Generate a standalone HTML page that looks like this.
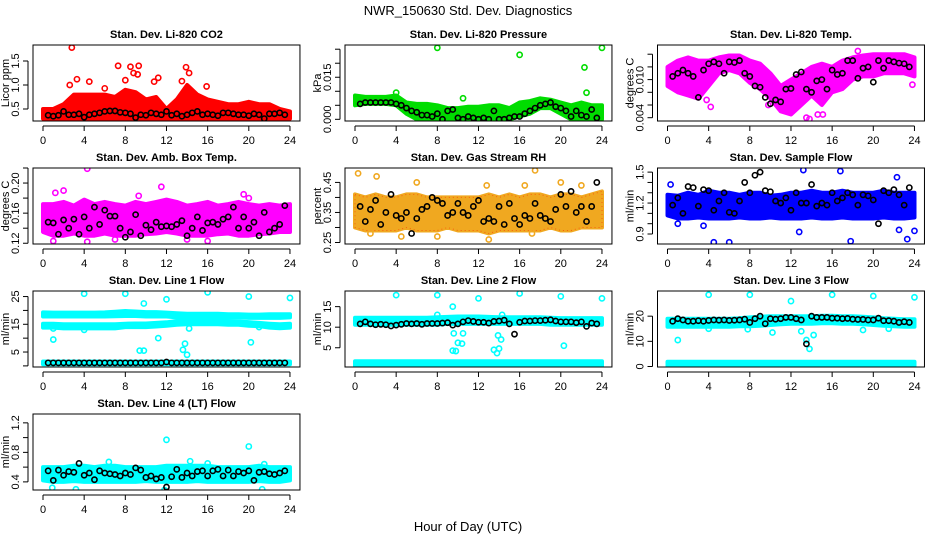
<!DOCTYPE html>
<html><head><meta charset="utf-8"><style>
html,body{margin:0;padding:0;background:#fff;}
svg{display:block;font-family:"Liberation Sans",Arial,sans-serif;}
</style></head><body>
<svg id="chart" width="936" height="540" viewBox="0 0 936 540" xmlns="http://www.w3.org/2000/svg">
<rect width="936" height="540" fill="#fff"/>
<text x="468" y="15" text-anchor="middle" font-size="13">NWR_150630  Std. Dev. Diagnostics</text>
<text x="468" y="531" text-anchor="middle" font-size="13">Hour of Day (UTC)</text>
</svg>
<script>
const HOURS = [0,1,2,3,4,5,6,7,8,9,10,11,12,13,14,15,16,17,18,19,20,21,22,23,24];
const X_TICKS = [0,4,8,12,16,20,24];

// Panel 1 CO2
const co2Lo = [0.3,0.3,0.3,0.3,0.3,0.3,0.3,0.3,0.3,0.3,0.3,0.3,0.3,0.3,0.3,0.3,0.3,0.3,0.3,0.3,0.3,0.3,0.3,0.3,0.3];
const co2Hi = [0.5,0.5,0.6,0.8,0.8,0.8,0.8,0.75,0.9,0.85,0.7,0.75,0.5,0.7,1.0,0.8,0.7,0.65,0.6,0.6,0.65,0.6,0.6,0.5,0.45];
const co2Out = [[2.8,1.78],[3.3,1.12],[4.5,1.07],[7.3,1.4],[8.5,1.38],[9.3,1.4],[8.8,1.25],[9.2,1.22],[10.8,1.07],[11.2,1.15],[13.9,1.37],[14.2,1.25],[15.9,0.97],[2.6,1.0],[6,0.93],[8,1.1],[13.5,1.08]];
const co2Black = [0.37,0.35,0.37,0.45,0.38,0.38,0.4,0.33,0.38,0.4,0.42,0.45,0.46,0.46,0.43,0.42,0.4,0.32,0.38,0.37,0.42,0.4,0.38,0.45,0.37,0.4,0.35,0.38,0.42,0.45,0.38,0.4,0.38,0.36,0.42,0.42,0.4,0.38,0.38,0.36,0.4,0.38,0.3,0.4,0.4,0.42,0.38];
// Panel 2 Pressure
const presLo = [0.005,0.0055,0.0055,0.0055,0.005,0.002,0,0,0,0,0,0,0,0,0,0,0.001,0.002,0.004,0.004,0.002,0,0,0,0];
const presHi = [0.0085,0.008,0.008,0.008,0.0085,0.006,0.0055,0.0055,0.005,0.004,0.004,0.0045,0.0045,0.005,0.005,0.004,0.006,0.0065,0.0075,0.007,0.006,0.005,0.006,0.005,0.005];
const presOut = [[8,0.0255],[16,0.023],[22.3,0.0185],[24,0.0255],[4.0,0.0095],[22.5,0.0095],[10.5,0.0075]];
const presBlack = [0.0055,0.006,0.006,0.006,0.006,0.006,0.006,0.0055,0.005,0.004,0.003,0.0025,0.0015,0.0015,0.001,0.002,0,0.003,0.0035,0.0005,0,0.001,0.0005,0,0.0005,0,0.003,0,0,0.0005,0.001,0.001,0.002,0.003,0.004,0.005,0.0055,0.006,0.0045,0.004,0.003,0.001,0.003,0.0015,0.001,0.0035,0.0005];
// Panel 3 Li-820 temp
const tempLo = [0.009,0.008,0.0075,0.007,0.009,0.011,0.0115,0.011,0.0095,0.0085,0.007,0.005,0.0045,0.006,0.0075,0.006,0.008,0.0085,0.010,0.0105,0.0105,0.011,0.011,0.011,0.0105];
const tempHi = [0.012,0.013,0.0135,0.013,0.013,0.0135,0.0138,0.0138,0.013,0.0125,0.011,0.009,0.010,0.011,0.012,0.0125,0.012,0.013,0.0135,0.0138,0.014,0.014,0.014,0.014,0.0135];
const tempOut = [[13.5,0.004],[13.8,0.0038],[14.6,0.0045],[15.1,0.0045],[4.2,0.0057],[9.8,0.006],[3.8,0.0068],[0.2,0.0095],[23.8,0.0092],[18.5,0.0145]];
const tempBlack = [0.0105,0.011,0.0115,0.011,0.0105,0.0072,0.0115,0.0125,0.0128,0.0125,0.011,0.0128,0.0127,0.013,0.011,0.0105,0.009,0.0088,0.0072,0.0062,0.0068,0.0065,0.0085,0.0086,0.0108,0.0112,0.0085,0.008,0.0098,0.01,0.0085,0.0115,0.0108,0.011,0.013,0.013,0.0102,0.0118,0.012,0.0096,0.013,0.0118,0.013,0.0128,0.0126,0.0125,0.012];
// Panel 4 Amb box temp
const ambLo = [0.135,0.13,0.13,0.133,0.13,0.13,0.133,0.13,0.13,0.13,0.132,0.133,0.135,0.133,0.13,0.13,0.13,0.132,0.133,0.13,0.13,0.132,0.133,0.135,0.135];
const ambHi = [0.172,0.172,0.175,0.17,0.178,0.172,0.175,0.172,0.17,0.175,0.172,0.175,0.178,0.175,0.17,0.172,0.175,0.17,0.172,0.175,0.172,0.17,0.172,0.17,0.172];
const ambOut = [[4.3,0.219],[1.2,0.187],[2,0.19],[11.5,0.195],[9.3,0.183],[16,0.123],[4.3,0.122],[1,0.123],[19.5,0.185],[20,0.18],[7,0.125],[14,0.125]];
const ambBlack = [0.148,0.147,0.132,0.151,0.14,0.152,0.132,0.155,0.14,0.168,0.145,0.164,0.156,0.156,0.14,0.128,0.135,0.158,0.13,0.144,0.138,0.148,0.142,0.143,0.142,0.145,0.15,0.13,0.14,0.155,0.137,0.147,0.148,0.145,0.152,0.155,0.168,0.14,0.155,0.14,0.148,0.13,0.161,0.135,0.14,0.145,0.17];
// Panel 5 Gas stream RH
const rhLo = [0.3,0.29,0.29,0.29,0.29,0.3,0.29,0.29,0.29,0.3,0.29,0.29,0.29,0.28,0.29,0.29,0.29,0.29,0.29,0.3,0.29,0.29,0.3,0.3,0.3];
const rhHi = [0.41,0.4,0.41,0.4,0.4,0.41,0.41,0.4,0.4,0.4,0.4,0.4,0.4,0.41,0.4,0.41,0.4,0.41,0.41,0.4,0.41,0.41,0.4,0.41,0.42];
const rhOut = [[0.3,0.48],[2.1,0.47],[17.5,0.49],[13,0.26],[8,0.27],[4.5,0.27],[6,0.45],[12.8,0.44],[16.5,0.44],[20,0.45],[22,0.44],[1.5,0.28],[17.2,0.28]];
const rhBlack = [0.37,0.32,0.36,0.39,0.31,0.35,0.41,0.34,0.33,0.35,0.28,0.33,0.36,0.37,0.4,0.39,0.38,0.34,0.35,0.38,0.35,0.34,0.37,0.39,0.32,0.33,0.32,0.37,0.31,0.38,0.33,0.31,0.34,0.33,0.38,0.34,0.33,0.32,0.36,0.41,0.37,0.42,0.35,0.37,0.32,0.37,0.45];
// Panel 6 Sample flow
const flowLo = [1.08,1.05,1.05,1.06,1.05,1.05,1.05,1.06,1.05,1.05,1.06,1.05,1.05,1.05,1.06,1.05,1.05,1.06,1.05,1.05,1.05,1.06,1.05,1.05,1.06];
const flowHi = [1.28,1.27,1.3,1.28,1.32,1.3,1.3,1.28,1.3,1.3,1.27,1.28,1.3,1.3,1.32,1.3,1.3,1.32,1.3,1.3,1.3,1.32,1.3,1.3,1.3];
const flowOut = [[4.5,0.82],[6,0.82],[17.8,0.83],[13.2,1.52],[16.8,1.51],[22.3,1.45],[23.3,0.85],[24,0.93],[12.8,0.92],[0.3,1.38],[22.5,0.94],[3.5,0.98],[1,1.0]];
const flowBlack = [1.18,1.25,1.1,1.36,1.35,1.17,1.33,1.32,1.13,1.22,1.3,1.11,1.1,1.22,1.4,1.3,1.47,1.5,1.32,1.31,1.22,1.2,1.25,1.13,1.3,1.2,1.2,1.38,1.17,1.2,1.18,1.3,1.22,1.25,1.3,1.28,1.18,1.28,1.27,1.23,1.0,1.32,1.3,1.33,1.28,1.18,1.35];
// Panel 7 Line 1 flow
const l1ALo = [17.8,17.8,17.8,17.8,17.8,17.8,17.8,17.9,18,18,17.8,17.8,17.8,17.5,17.5,17.5,17.5,17.5,17.5,17.5,17.3,17.3,17.3,17.3,17.5];
const l1AHi = [19.3,19.2,19.2,19.2,19.2,19.2,19.3,19.5,19.8,19.6,19.4,19.4,19.2,19,18.8,18.8,18.8,18.8,18.6,18.6,18.5,18.5,18.6,18.6,18.6];
const l1BLo = [13.8,13.8,13.5,13.5,13.5,13.5,13.5,13.5,14,14,14,14.2,14.5,14.8,15,15,15,15,14.8,14.8,14.5,14.3,13.8,13.6,13.8];
const l1BHi = [15.2,15.2,15,15,15,15,15,15,15.2,15.3,15.3,15.5,15.7,16.2,16.5,16.5,16.3,16.3,16.2,16,15.8,15.5,15.2,15,15.2];
const l1CLo = [0.6,0.6,0.6,0.6,0.6,0.6,0.6,0.6,0.6,0.6,0.6,0.6,0.6,0.6,0.6,0.6,0.6,0.6,0.6,0.6,0.6,0.6,0.6,0.6,0.6];
const l1CHi = [1.6,1.6,1.6,1.6,1.6,1.6,1.6,1.6,1.6,1.6,1.6,1.6,1.6,1.6,1.6,1.6,1.6,1.6,1.6,1.6,1.6,1.6,1.6,1.6,1.6];
const l1Out = [[4,26],[8,26],[12,24],[16,26.5],[20,25],[24,24.5],[1,9.5],[9.4,5.5],[9.8,5.5],[13.6,5.8],[13.8,8],[14,4],[9.8,22.5],[11.2,10],[20.2,8.5],[1,13.5],[4,13],[14.2,13.5],[21,14]];
const l1Black = [1.1,1.1,1.1,1.1,1.1,1.1,1.1,1.1,1.1,1.1,1.1,1.1,1.1,1.1,1.1,1.1,1.1,1.1,1.1,1.1,1.1,1.1,1.1,1.4,1.1,1.1,1.1,1.1,1.1,1.1,1.1,1.1,1.1,1.1,1.1,1.1,1.1,1.1,1.1,1.1,1.1,1.1,1.1,1.1,1.1,1.1,1.1];
// Panel 8 Line 2 flow
const l2ALo = [10.6,10.6,10.6,10.6,10.6,10.6,10.6,10.6,10.6,10.8,10.8,10.8,10.8,10.8,10.8,10.8,10.8,10.8,10.8,10.6,10.6,10.6,10.6,10.6,10.6];
const l2AHi = [12.3,12.3,12.3,12.3,12.3,12.3,12.3,12.3,12.4,12.5,12.6,12.6,12.6,12.5,12.4,12.4,12.4,12.4,12.4,12.3,12.2,12.2,12.2,12.2,12.2];
const l2BLo = [0.5,0.5,0.5,0.5,0.5,0.5,0.5,0.5,0.5,0.5,0.5,0.5,0.5,0.5,0.5,0.5,0.5,0.5,0.5,0.5,0.5,0.5,0.5,0.5,0.5];
const l2BHi = [1.7,1.7,1.7,1.7,1.7,1.7,1.7,1.7,1.7,1.7,1.7,1.7,1.7,1.7,1.7,1.7,1.7,1.7,1.7,1.7,1.7,1.7,1.7,1.7,1.7];
const l2Out = [[4,17.8],[8,17.8],[12,17],[16,18.2],[20,17.5],[24,17],[9.5,15],[9.5,4.3],[9.8,4.2],[9.6,8.5],[10.5,8.5],[10,6.2],[10.4,6],[13.5,4.5],[13.8,3.7],[14,4.8],[14.2,7],[13.9,8],[20.3,5.5],[8,13],[14.3,13]];
const l2Black = [10.8,11.3,10.8,10.6,10.7,10.6,10.3,10.5,10.7,10.9,10.8,10.9,10.7,10.9,10.9,10.9,11,11.1,10.5,10.8,11.3,11.6,11.4,11.2,11.2,11,11.4,11.5,11.7,10.8,8.3,11.2,11.5,11.5,11.6,11.6,11.7,11.8,11.5,11.3,11.3,11.3,11.1,11.3,10.2,11,10.8];
// Panel 9 Line 3 flow
const l3ALo = [15.8,15.8,15.8,15.8,15.8,15.8,15.8,16,16,16.2,16.5,16.8,17,17,17,17.2,17.2,17,17,16.8,16.5,16.2,16,15.8,15.8];
const l3AHi = [19,19,19,19,19,19,19,19.2,19.5,19.8,20,20,20,20,20,20.2,20.2,20,20,19.8,19.5,19.2,19,18.8,18.8];
const l3BLo = [0.2,0.2,0.2,0.2,0.2,0.2,0.2,0.2,0.2,0.2,0.2,0.2,0.2,0.2,0.2,0.2,0.2,0.2,0.2,0.2,0.2,0.2,0.2,0.2,0.2];
const l3BHi = [1.9,1.9,1.9,1.9,1.9,1.9,1.9,1.9,1.9,1.9,1.9,1.9,1.9,1.9,1.9,1.9,1.9,1.9,1.9,1.9,1.9,1.9,1.9,1.9,1.9];
const l3Out = [[4,28.5],[8,28.5],[12,26],[16,28.5],[20,28],[24,27.5],[1,10.5],[10.2,13.5],[13,14],[13.5,10.5],[13.8,7],[14.2,12.5],[4,15],[7.8,14.8],[19,14.5],[21.5,15]];
const l3Black = [18,19,18.5,18,18,18.2,18,18.3,18.5,18.4,18.5,18.3,18.4,18.5,18.8,17.5,19,20,17,19,18.8,19,19.5,19.5,19,18.5,9,20,19.5,19.5,19.5,19.2,19.2,19,19.1,18.8,18.7,18.7,18.5,18.5,19.2,18.2,18.2,18,17.5,17.8,17.5];
// Panel 10 Line 4 flow
const l4Lo = [0.42,0.4,0.4,0.41,0.4,0.4,0.4,0.4,0.4,0.4,0.41,0.4,0.4,0.4,0.4,0.41,0.4,0.4,0.4,0.4,0.4,0.41,0.4,0.4,0.42];
const l4Hi = [0.6,0.6,0.6,0.62,0.62,0.6,0.62,0.62,0.6,0.6,0.6,0.6,0.62,0.62,0.62,0.62,0.62,0.6,0.6,0.6,0.6,0.62,0.6,0.6,0.6];
const l4Out = [[4,1.37],[12,0.97],[20,0.88],[0.9,0.32],[3.2,0.3],[21.3,0.3],[11.8,0.29],[6.4,0.67],[14.3,0.68],[16,0.65],[21.5,0.64]];
const l4Black = [0.55,0.42,0.56,0.49,0.54,0.53,0.65,0.49,0.52,0.43,0.55,0.52,0.51,0.5,0.48,0.52,0.5,0.59,0.56,0.46,0.48,0.44,0.46,0.33,0.47,0.57,0.46,0.52,0.48,0.54,0.55,0.48,0.55,0.57,0.48,0.56,0.48,0.54,0.52,0.55,0.42,0.53,0.54,0.51,0.5,0.52,0.55];

const BLACK_T = [];
for (let i = 0; i < 47; i++) BLACK_T.push(0.5 + i * 0.5);

const NS = 'http://www.w3.org/2000/svg';
const svg = document.getElementById('chart');
function mk(tag, attrs, parent) {
  const e = document.createElementNS(NS, tag);
  for (const k in attrs) e.setAttribute(k, attrs[k]);
  (parent || svg).appendChild(e);
  return e;
}
const COLX = [43, 355, 667.5];
const ROWY = [45, 168, 291, 414];
const XS = 10.29, BH = 76;

const panels = [
 {key:'co2', title:'Stan. Dev. Li-820 CO2', ylab:'Licor ppm', col:0,row:0, y0:0.25,y1:1.833, ticks:[0.5,1.0,1.5], labels:['0.5','1.0','1.5'], color:'#ff0000', bands:[[co2Lo,co2Hi]], out:co2Out, black:co2Black},
 {key:'pressure', title:'Stan. Dev. Li-820 Pressure', ylab:'kPa', col:1,row:0, y0:-0.0006,y1:0.0265, ticks:[0,0.005,0.01,0.015,0.02,0.025], labels:['0.000','','','0.015','',''], color:'#00dd00', bands:[[presLo,presHi]], out:presOut, black:presBlack},
 {key:'li820-temp', title:'Stan. Dev. Li-820 Temp.', ylab:'degrees C', col:2,row:0, y0:0.00348,y1:0.01545, ticks:[0.004,0.006,0.008,0.010,0.012,0.014], labels:['0.004','','','0.010','',''], color:'#ff00ff', bands:[[tempLo,tempHi]], out:tempOut, black:tempBlack},
 {key:'amb-box-temp', title:'Stan. Dev. Amb. Box Temp.', ylab:'degrees C', col:0,row:1, y0:0.119,y1:0.22, ticks:[0.12,0.14,0.16,0.18,0.20,0.22], labels:['0.12','','0.16','','0.20',''], color:'#ff00ff', bands:[[ambLo,ambHi]], out:ambOut, black:ambBlack},
 {key:'gas-rh', title:'Stan. Dev. Gas Stream RH', ylab:'percent', col:1,row:1, y0:0.245,y1:0.498, ticks:[0.25,0.30,0.35,0.40,0.45], labels:['0.25','','0.35','','0.45'], color:'#f0a820', bands:[[rhLo,rhHi]], out:rhOut, black:rhBlack},
 {key:'sample-flow', title:'Stan. Dev. Sample Flow', ylab:'ml/min', col:2,row:1, y0:0.803,y1:1.54, ticks:[0.9,1.0,1.1,1.2,1.3,1.4,1.5], labels:['0.9','','','1.2','','','1.5'], color:'#0000ff', bands:[[flowLo,flowHi]], out:flowOut, black:flowBlack},
 {key:'line1-flow', title:'Stan. Dev. Line 1 Flow', ylab:'ml/min', col:0,row:2, y0:-0.4,y1:27, ticks:[0,5,10,15,20,25], labels:['','5','','15','','25'], color:'#00ffff', bands:[[l1ALo,l1AHi],[l1BLo,l1BHi],[l1CLo,l1CHi]], out:l1Out, black:l1Black},
 {key:'line2-flow', title:'Stan. Dev. Line 2 Flow', ylab:'ml/min', col:1,row:2, y0:0.32,y1:18.8, ticks:[5,10,15], labels:['5','10','15'], color:'#00ffff', bands:[[l2ALo,l2AHi],[l2BLo,l2BHi]], out:l2Out, black:l2Black},
 {key:'line3-flow', title:'Stan. Dev. Line 3 Flow', ylab:'ml/min', col:2,row:2, y0:-0.2,y1:30, ticks:[0,10,20], labels:['0','10','20'], color:'#00ffff', bands:[[l3ALo,l3AHi],[l3BLo,l3BHi]], out:l3Out, black:l3Black},
 {key:'line4-flow', title:'Stan. Dev. Line 4 (LT) Flow', ylab:'ml/min', col:0,row:3, y0:0.29,y1:1.32, ticks:[0.4,0.6,0.8,1.0,1.2], labels:['0.4','','0.8','','1.2'], color:'#00ffff', bands:[[l4Lo,l4Hi]], out:l4Out, black:l4Black}
];

panels.forEach(p => {
  const x0 = COLX[p.col], top = ROWY[p.row], bot = top + BH;
  const left = x0 - 10, right = x0 + 24 * XS + 10;
  const xf = h => x0 + h * XS;
  const yf = v => bot - (v - p.y0) / (p.y1 - p.y0) * BH;
  const g = mk('g', {});
  
  
  const cp = mk('clipPath', {id: 'clip-' + p.key}, g);
  mk('rect', {x: left, y: top, width: right - left, height: BH}, cp);
  const data = mk('g', {'clip-path': 'url(#clip-' + p.key + ')'}, g);
  // clouds
  p.bands.forEach((b, bi) => {
    let d = '';
    HOURS.forEach((h, i) => { d += (i ? 'L' : 'M') + xf(h).toFixed(1) + ',' + yf(b[1][i]).toFixed(1); });
    for (let i = HOURS.length - 1; i >= 0; i--) d += 'L' + xf(HOURS[i]).toFixed(1) + ',' + yf(b[0][i]).toFixed(1);
    d += 'Z';
    const band = mk('path', {d: d, fill: p.color, stroke: p.color, 'stroke-width': 4, 'stroke-linejoin': 'round'}, data);
    
    
    if (p.key === 'gas-rh') {
      const band2 = mk('path', {d: d, fill: 'none', stroke: '#ff3000', 'stroke-width': 1, 'stroke-dasharray': '1 3', opacity: 0.6}, data);
      
      
    }
  });
  p.out.forEach(o => {
    const c = mk('circle', {cx: xf(o[0]), cy: yf(o[1]), r: 2.6, fill: 'none', stroke: p.color, 'stroke-width': 1.6}, data);
    
    
  });
  p.black.forEach((v, i) => {
    const c = mk('circle', {cx: xf(BLACK_T[i]), cy: yf(v), r: 2.6, fill: 'none', stroke: '#000', 'stroke-width': 1.6}, data);
    
    
  });
  // box
  const box = mk('rect', {x: left, y: top, width: right - left, height: BH, fill: 'none', stroke: '#000', 'stroke-width': 1}, g);
  
  
  // title
  const t = mk('text', {x: (left + right) / 2, y: top - 7, 'text-anchor': 'middle', 'font-size': 11, 'font-weight': 'bold'}, g);
  t.textContent = p.title;
  
  
  // x axis
  mk('line', {x1: xf(0), x2: xf(24), y1: bot + 5, y2: bot + 5, stroke: '#000'}, g);
  X_TICKS.forEach(h => {
    mk('line', {x1: xf(h), x2: xf(h), y1: bot + 5, y2: bot + 10, stroke: '#000'}, g);
    const tl = mk('text', {x: xf(h), y: bot + 23, 'text-anchor': 'middle', 'font-size': 11}, g);
    tl.textContent = h;
    
    
  });
  // y axis
  const ya = left - 5;
  const tv = p.ticks.filter(v => v >= p.y0 && v <= p.y1);
  mk('line', {x1: ya, x2: ya, y1: yf(tv[0]), y2: yf(tv[tv.length - 1]), stroke: '#000'}, g);
  p.ticks.forEach((v, i) => {
    if (v < p.y0 || v > p.y1) return;
    mk('line', {x1: ya - 5, x2: ya, y1: yf(v), y2: yf(v), stroke: '#000'}, g);
    if (p.labels[i]) {
      const yl = mk('text', {x: 0, y: 0, 'text-anchor': 'middle', 'font-size': 11, transform: 'translate(' + (ya - 9) + ',' + yf(v) + ') rotate(-90)'}, g);
      yl.textContent = p.labels[i];
      
      
    }
  });
  const yt = mk('text', {x: 0, y: 0, 'text-anchor': 'middle', 'font-size': 11, transform: 'translate(' + (left - 24) + ',' + (top + BH / 2) + ') rotate(-90)'}, g);
  yt.textContent = p.ylab;
  
  
});
</script>
</body></html>
